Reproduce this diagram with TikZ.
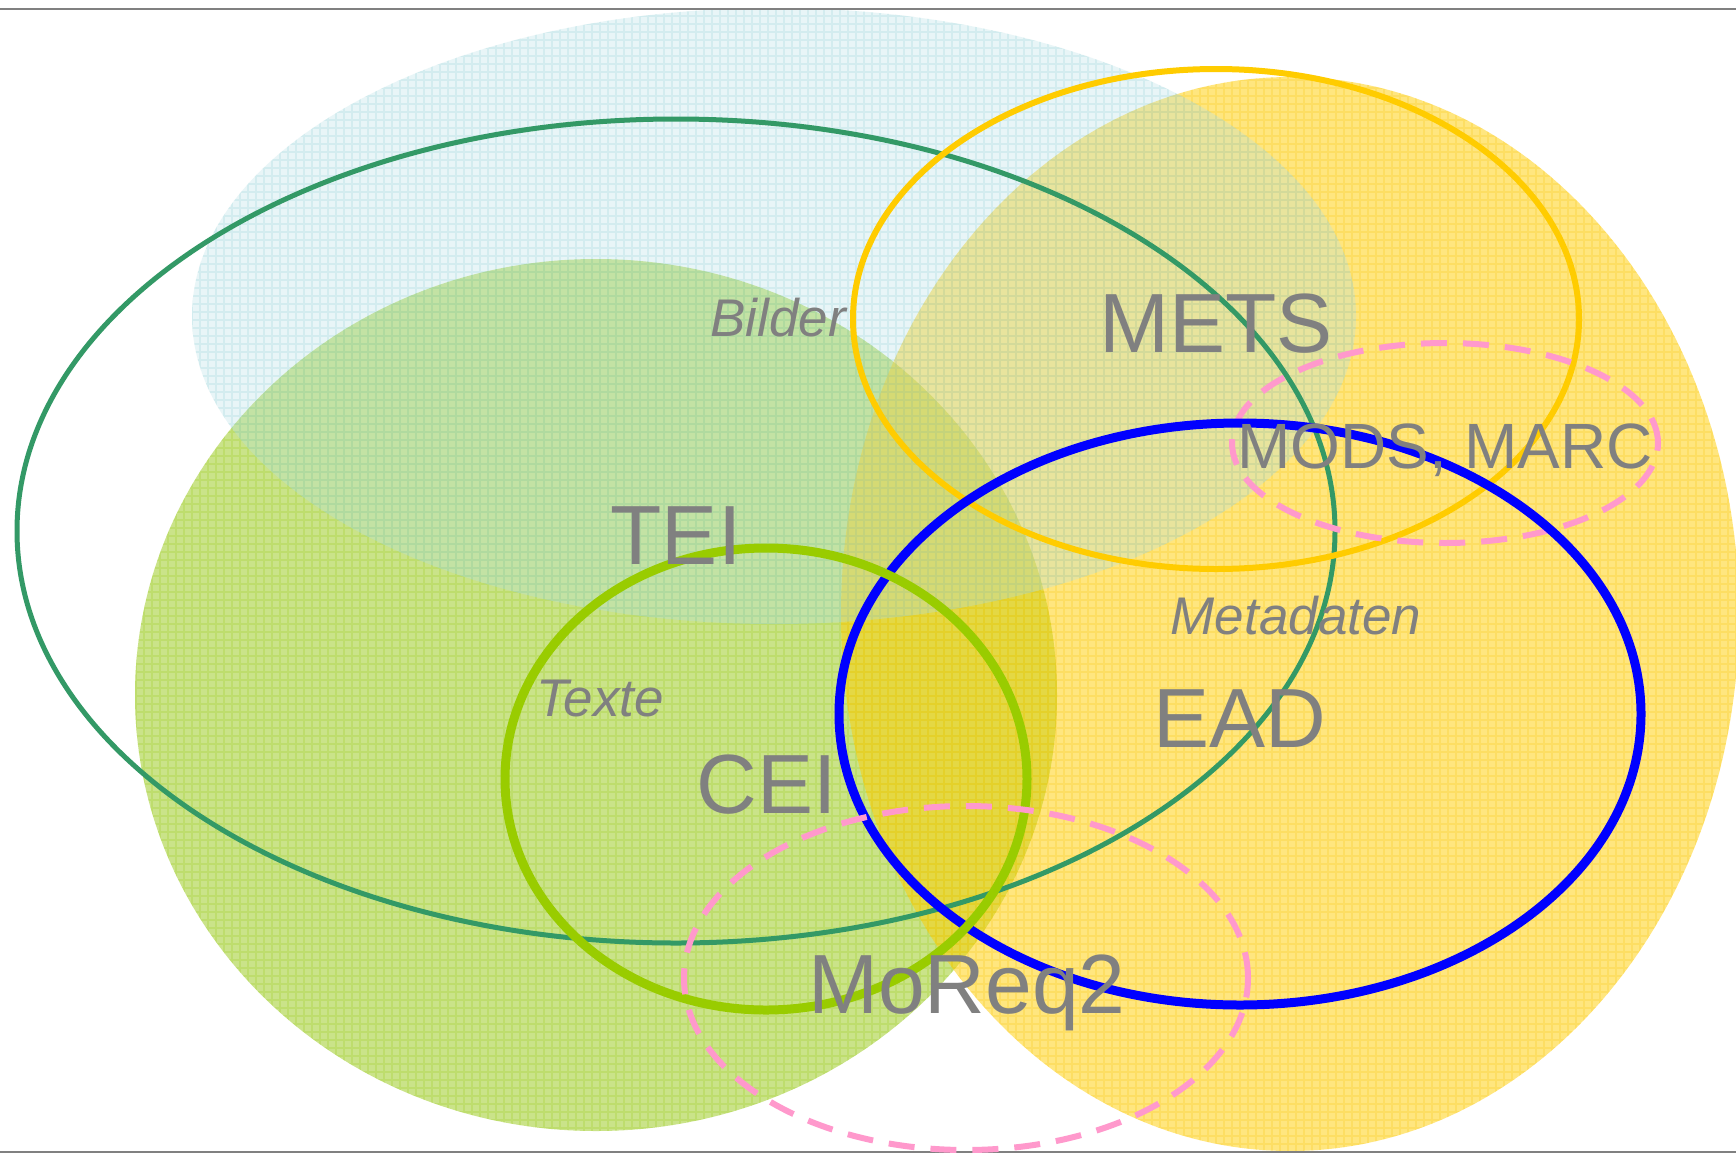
\documentclass[tikz,border=0pt]{standalone}
\usepackage{fontspec}
\setmainfont{Liberation Sans}
\definecolor{fillcyan}{RGB}{181,225,229}
\definecolor{gridcyan}{RGB}{140,205,212}
\definecolor{fillgreen}{RGB}{150,200,20}
\definecolor{gridgreen}{RGB}{150,200,10}
\definecolor{fillyellow}{RGB}{255,206,0}
\definecolor{gridyellow}{RGB}{250,195,0}
\definecolor{teigreen}{RGB}{51,153,102}
\definecolor{metsyellow}{RGB}{255,204,0}
\definecolor{modspink}{RGB}{255,153,204}
\definecolor{eadblue}{RGB}{0,0,255}
\definecolor{ceigreen}{RGB}{153,204,0}
\definecolor{labelgray}{RGB}{128,128,128}
\definecolor{rulegray}{RGB}{128,128,128}
\tikzset{
  gridtex/.style={line width=1.2pt, opacity=0.22},
  pinkdash/.style={draw=modspink, line width=6pt, dash pattern=on 26pt off 16pt},
  biglabel/.style={text=labelgray, inner sep=0pt, anchor=base, font=\fontsize{84}{90}\selectfont},
  midlabel/.style={text=labelgray, inner sep=0pt, anchor=base, font=\fontsize{64}{70}\selectfont},
  itlabel/.style={text=labelgray, inner sep=0pt, anchor=base, font=\fontsize{53}{60}\selectfont\itshape},
  rule/.style={draw=rulegray, line width=2pt}
}
% center, rx, ry, fill colour, grid colour, fill opacity
\newcommand{\texell}[6]{%
  \fill[#4, fill opacity=#6] #1 ellipse [x radius=#2, y radius=#3];
  \begin{scope}
    \clip #1 ellipse [x radius=#2, y radius=#3];
    \draw[gridtex,#5,step=8pt] (0,0) grid (1736,1154);
  \end{scope}}
\begin{document}
\begin{tikzpicture}[x=1pt,y=-1pt]
\useasboundingbox (0,0) rectangle (1736,1154);
\fill[white] (0,0) rectangle (1736,1154);
% filled areas
\texell{(596,695)}{461pt}{436pt}{fillgreen}{gridgreen}{0.5}
\texell{(1290,614)}{449pt}{537pt}{fillyellow}{gridyellow}{0.5}
\texell{(774,316)}{582pt}{308pt}{fillcyan}{gridcyan}{0.3}
% rules
\coordinate (tl) at (0,9); \coordinate (tr) at (1736,9);
\coordinate (bl) at (0,1152); \coordinate (br) at (1736,1152);
\draw[rule] (tl) -- (tr);
\draw[rule] (bl) -- (br);
% outlines
\draw[draw=teigreen, line width=5pt] (676,531) ellipse [x radius=659pt, y radius=412pt];
\draw[draw=metsyellow, line width=6pt] (1216,319) ellipse [x radius=363pt, y radius=250pt];
\draw[pinkdash] (1445,443) ellipse [x radius=213pt, y radius=100pt];
\draw[draw=eadblue, line width=9pt] (1240,714) ellipse [x radius=401pt, y radius=291pt];
\draw[draw=ceigreen, line width=9pt] (766,779) ellipse [x radius=261pt, y radius=231pt];
\draw[pinkdash] (966,978) ellipse [x radius=282pt, y radius=172pt];
% labels
\node[itlabel] (bilder) at (778,336) {Bilder};
\node[biglabel] (mets) at (1216,352) {METS};
\node[midlabel] (mods) at (1445,468) {MODS, MARC};
\node[biglabel] (tei) at (676,564) {TEI};
\node[itlabel] (meta) at (1296,634) {Metadaten};
\node[biglabel] (ead) at (1240,747) {EAD};
\node[itlabel] (texte) at (600,716) {Texte};
\node[biglabel] (cei) at (767,813) {CEI};
\node[biglabel] (moreq) at (967,1013) {MoReq2};
\end{tikzpicture}
\end{document}
